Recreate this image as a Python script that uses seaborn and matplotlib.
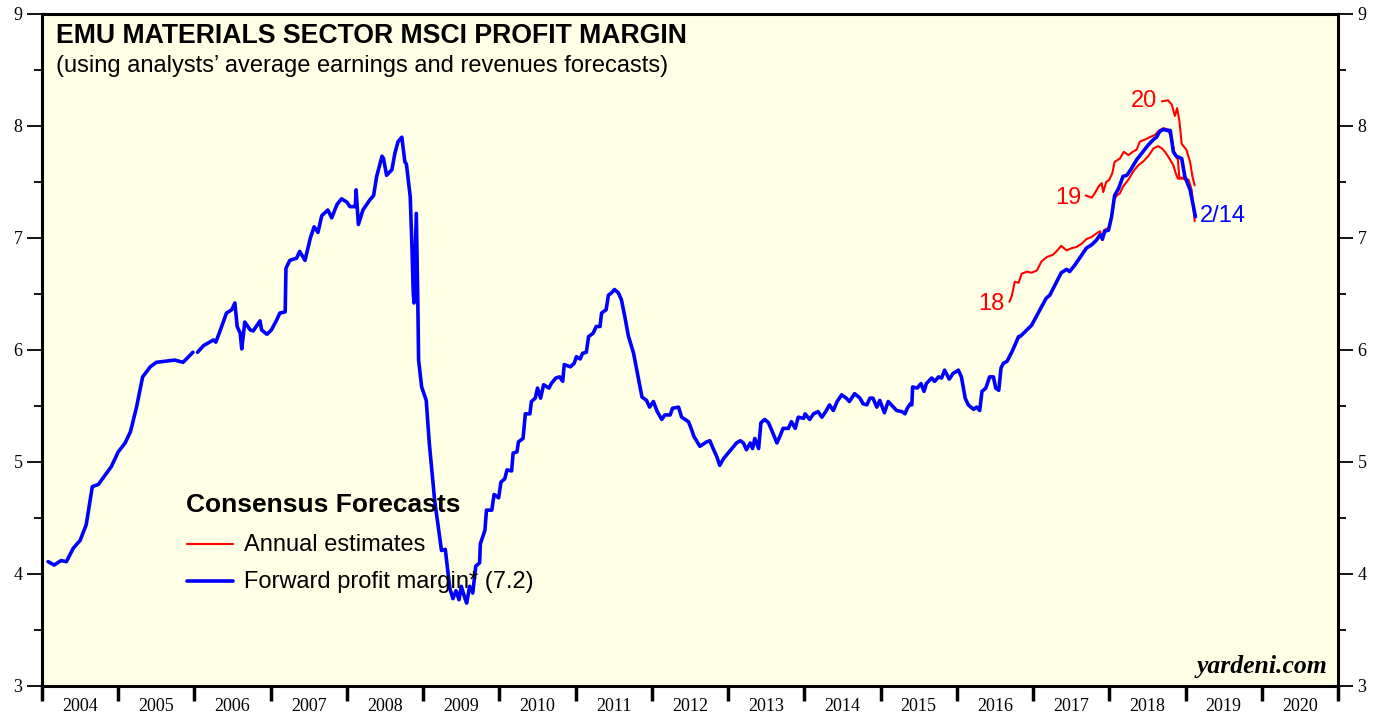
import matplotlib.pyplot as plt
import numpy as np
import pandas as pd
import seaborn as sns

# ── Data ───────────────────────────────────────────────────────────────────
# forward profit margin, two pieces (small gap at the start of 2006)
fwd_year_a = [2004.08, 2004.16, 2004.25, 2004.32, 2004.41, 2004.50, 2004.58, 2004.66,
              2004.74, 2004.91, 2005.00, 2005.09, 2005.16, 2005.24, 2005.32, 2005.42,
              2005.50, 2005.74, 2005.85, 2005.98]
fwd_margin_a = [4.11, 4.08, 4.12, 4.11, 4.23, 4.30, 4.44, 4.78,
                4.80, 4.96, 5.09, 5.17, 5.27, 5.49, 5.76, 5.85,
                5.89, 5.91, 5.89, 5.98]

fwd_year_b = [
    2006.04, 2006.12, 2006.25, 2006.28, 2006.33, 2006.42, 2006.49, 2006.53, 2006.56, 2006.60,
    2006.62, 2006.66, 2006.73, 2006.77, 2006.86, 2006.88, 2006.95, 2007.01, 2007.08, 2007.12,
    2007.19, 2007.20, 2007.25, 2007.34, 2007.38, 2007.45, 2007.52, 2007.57, 2007.62, 2007.67,
    2007.75, 2007.80, 2007.87, 2007.93, 2008.00, 2008.04, 2008.11, 2008.12, 2008.15, 2008.21,
    2008.30, 2008.35, 2008.39, 2008.46, 2008.48, 2008.52, 2008.59, 2008.63, 2008.67, 2008.72,
    2008.76, 2008.78, 2008.83, 2008.85, 2008.87, 2008.88, 2008.91, 2008.93, 2008.94, 2008.98,
    2009.04, 2009.08, 2009.15, 2009.24, 2009.29, 2009.35, 2009.39, 2009.43, 2009.47, 2009.50,
    2009.54, 2009.57, 2009.61, 2009.65, 2009.69, 2009.74, 2009.75, 2009.81, 2009.83, 2009.90,
    2009.93, 2009.99, 2010.02, 2010.07, 2010.10, 2010.16, 2010.18, 2010.23, 2010.25, 2010.31,
    2010.34, 2010.40, 2010.42, 2010.47, 2010.50, 2010.54, 2010.58, 2010.65, 2010.68, 2010.74,
    2010.79, 2010.83, 2010.85, 2010.93, 2010.98, 2011.01, 2011.06, 2011.09, 2011.14, 2011.17,
    2011.23, 2011.27, 2011.32, 2011.34, 2011.40, 2011.43, 2011.47, 2011.51, 2011.56, 2011.60,
    2011.65, 2011.69, 2011.76, 2011.82, 2011.87, 2011.93, 2011.97, 2012.02, 2012.07, 2012.13,
    2012.17, 2012.24, 2012.27, 2012.35, 2012.39, 2012.48, 2012.52, 2012.55, 2012.63, 2012.72,
    2012.76, 2012.81, 2012.85, 2012.89, 2012.94, 2013.00, 2013.05, 2013.11, 2013.16, 2013.20,
    2013.24, 2013.29, 2013.32, 2013.35, 2013.40, 2013.43, 2013.48, 2013.53, 2013.58, 2013.64,
    2013.68, 2013.72, 2013.79, 2013.83, 2013.88, 2013.92, 2013.99, 2014.01, 2014.07, 2014.12,
    2014.18, 2014.23, 2014.28, 2014.33, 2014.38, 2014.43, 2014.49, 2014.55, 2014.59, 2014.66,
    2014.73, 2014.77, 2014.82, 2014.86, 2014.90, 2014.95, 2014.99, 2015.05, 2015.10, 2015.17,
    2015.21, 2015.28, 2015.32, 2015.35, 2015.39, 2015.41, 2015.42, 2015.48, 2015.53, 2015.57,
    2015.60, 2015.67, 2015.71, 2015.76, 2015.80, 2015.84, 2015.90, 2015.95, 2016.02, 2016.06,
    2016.11, 2016.15, 2016.22, 2016.26, 2016.30, 2016.33, 2016.38, 2016.43, 2016.48, 2016.51,
    2016.55, 2016.58, 2016.61, 2016.66, 2016.72, 2016.76, 2016.81, 2016.83, 2016.92, 2016.98,
    2017.09, 2017.17, 2017.22, 2017.31, 2017.37, 2017.44, 2017.48, 2017.55, 2017.61, 2017.70,
    2017.77, 2017.83, 2017.88, 2017.91, 2017.94, 2017.99, 2018.03, 2018.07, 2018.12, 2018.18,
    2018.23, 2018.29, 2018.36, 2018.44, 2018.51, 2018.58, 2018.62, 2018.66, 2018.71, 2018.76,
    2018.80, 2018.84, 2018.88, 2018.95, 2018.99, 2019.06, 2019.10, 2019.13]
fwd_margin_b = [
    5.98, 6.04, 6.09, 6.07, 6.16, 6.33, 6.36, 6.42, 6.21, 6.15,
    6.01, 6.25, 6.18, 6.17, 6.26, 6.18, 6.14, 6.18, 6.27, 6.33,
    6.34, 6.73, 6.80, 6.82, 6.88, 6.80, 7.00, 7.10, 7.05, 7.20,
    7.25, 7.18, 7.30, 7.35, 7.32, 7.28, 7.28, 7.43, 7.12, 7.25,
    7.34, 7.38, 7.55, 7.73, 7.71, 7.56, 7.61, 7.76, 7.86, 7.90,
    7.68, 7.66, 7.37, 6.98, 6.51, 6.42, 7.22, 6.42, 5.91, 5.67,
    5.55, 5.17, 4.66, 4.21, 4.22, 3.87, 3.78, 3.85, 3.77, 3.89,
    3.80, 3.74, 3.89, 3.83, 4.07, 4.10, 4.27, 4.39, 4.57, 4.57,
    4.71, 4.68, 4.82, 4.85, 4.93, 4.92, 5.08, 5.09, 5.18, 5.21,
    5.43, 5.43, 5.54, 5.57, 5.66, 5.57, 5.69, 5.66, 5.70, 5.75,
    5.76, 5.72, 5.87, 5.85, 5.88, 5.94, 5.92, 5.97, 5.98, 6.12,
    6.15, 6.21, 6.21, 6.33, 6.36, 6.49, 6.51, 6.54, 6.51, 6.45,
    6.28, 6.13, 5.97, 5.76, 5.58, 5.55, 5.49, 5.54, 5.45, 5.38,
    5.42, 5.42, 5.48, 5.49, 5.40, 5.36, 5.29, 5.23, 5.14, 5.18,
    5.19, 5.11, 5.05, 4.97, 5.03, 5.08, 5.12, 5.17, 5.19, 5.17,
    5.11, 5.17, 5.12, 5.21, 5.12, 5.35, 5.38, 5.35, 5.27, 5.17,
    5.23, 5.30, 5.30, 5.36, 5.30, 5.40, 5.39, 5.43, 5.38, 5.43,
    5.45, 5.40, 5.45, 5.51, 5.46, 5.54, 5.60, 5.57, 5.54, 5.61,
    5.57, 5.52, 5.51, 5.57, 5.57, 5.49, 5.55, 5.44, 5.54, 5.49,
    5.46, 5.45, 5.43, 5.48, 5.52, 5.51, 5.67, 5.66, 5.70, 5.63,
    5.70, 5.75, 5.72, 5.76, 5.75, 5.82, 5.74, 5.79, 5.82, 5.76,
    5.57, 5.51, 5.47, 5.49, 5.46, 5.63, 5.66, 5.76, 5.76, 5.66,
    5.64, 5.84, 5.88, 5.90, 5.98, 6.04, 6.12, 6.12, 6.18, 6.22,
    6.36, 6.46, 6.49, 6.61, 6.69, 6.72, 6.70, 6.76, 6.82, 6.91,
    6.94, 6.98, 7.03, 6.99, 7.06, 7.07, 7.19, 7.38, 7.44, 7.55,
    7.56, 7.62, 7.70, 7.77, 7.83, 7.88, 7.90, 7.95, 7.97, 7.96,
    7.96, 7.77, 7.73, 7.71, 7.55, 7.43, 7.29, 7.19]

# annual consensus estimates
est18_year = [2016.69, 2016.72, 2016.76, 2016.81, 2016.85, 2016.92, 2016.98, 2017.05, 2017.11,
              2017.18, 2017.26, 2017.32, 2017.37, 2017.44, 2017.51, 2017.57, 2017.64, 2017.70,
              2017.77, 2017.83, 2017.88, 2017.91, 2017.93, 2017.99, 2018.03, 2018.06, 2018.10,
              2018.14, 2018.18, 2018.25, 2018.31, 2018.38, 2018.44, 2018.51, 2018.58, 2018.64,
              2018.69, 2018.73, 2018.77, 2018.84, 2018.87, 2018.90, 2018.95, 2019.01]
est18_margin = [6.43, 6.48, 6.61, 6.60, 6.68, 6.70, 6.69, 6.71, 6.79,
                6.83, 6.85, 6.89, 6.93, 6.89, 6.91, 6.92, 6.95, 6.99,
                7.01, 7.04, 7.06, 6.98, 7.07, 7.09, 7.19, 7.34, 7.38,
                7.40, 7.46, 7.52, 7.59, 7.65, 7.68, 7.73, 7.80, 7.82,
                7.80, 7.77, 7.73, 7.65, 7.58, 7.53, 7.54, 7.52]

est19_year = [2017.69, 2017.77, 2017.81, 2017.86, 2017.90, 2017.92, 2017.96, 2018.00, 2018.04,
              2018.07, 2018.14, 2018.19, 2018.25, 2018.31, 2018.36, 2018.40, 2018.47, 2018.53,
              2018.60, 2018.65, 2018.71, 2018.77, 2018.82, 2018.86, 2018.90, 2018.92, 2018.97,
              2019.04, 2019.08, 2019.12]
est19_margin = [7.38, 7.36, 7.40, 7.46, 7.49, 7.41, 7.50, 7.52, 7.58,
                7.68, 7.71, 7.77, 7.74, 7.77, 7.79, 7.86, 7.88, 7.90,
                7.92, 7.96, 7.98, 7.97, 7.88, 7.74, 7.70, 7.53, 7.53,
                7.52, 7.43, 7.15]

est20_year = [2018.69, 2018.77, 2018.82, 2018.86, 2018.89, 2018.92, 2018.95, 2019.01, 2019.06,
              2019.09, 2019.12]
est20_margin = [8.22, 8.23, 8.19, 8.09, 8.16, 8.04, 7.84, 7.79, 7.68, 7.55, 7.47]

years = list(range(2004, 2021))
y_ticks = [3, 4, 5, 6, 7, 8, 9]

# ── Style ──────────────────────────────────────────────────────────────────
sns.set_style("ticks")
plt.rcParams["font.family"] = ["Liberation Sans", "DejaVu Sans"]
plt.rcParams["text.color"] = "black"
BLUE = "#0000FF"
RED = "#FF0000"
SERIF = ["Liberation Serif", "DejaVu Serif"]

fig = plt.figure(figsize=(13.84, 7.15), dpi=100)
ax = fig.add_axes([42 / 1384, 29 / 715, 1296 / 1384, 672 / 715])
ax.set_facecolor("#FFFFE6")

for yr, mg in [(est18_year, est18_margin), (est19_year, est19_margin), (est20_year, est20_margin)]:
    sns.lineplot(x=yr, y=mg, ax=ax, color=RED, linewidth=1.5, estimator=None, sort=False)

for yr, mg in [(fwd_year_a, fwd_margin_a), (fwd_year_b, fwd_margin_b)]:
    sns.lineplot(x=yr, y=mg, ax=ax, color=BLUE, linewidth=2.6, estimator=None, sort=False)

ax.set_xlim(2004, 2021)
ax.set_ylim(3, 9)

# y axis: labels on both sides, half-unit minor ticks
ax.set_yticks(y_ticks)
ax.set_yticks(np.arange(3.5, 9, 1.0), minor=True)
ax.tick_params(axis="y", which="both", left=True, right=True, labelleft=True, labelright=True,
               direction="out", width=1.3, colors="black", labelsize=13, pad=3)
ax.tick_params(axis="y", which="major", length=11)
ax.tick_params(axis="y", which="minor", length=6)

# x axis: boundary ticks at year starts, labels centred on each year
ax.set_xticks(years + [2021])
ax.set_xticklabels([""] * (len(years) + 1))
ax.set_xticks([y + 0.5 for y in years], minor=True)
ax.set_xticklabels([str(y) for y in years], minor=True)
ax.tick_params(axis="x", which="major", direction="out", length=11, width=2.5, colors="black")
ax.tick_params(axis="x", which="minor", length=0, labelsize=13, pad=8.5, labelcolor="black")

for lab in ax.xaxis.get_ticklabels(which="both") + ax.yaxis.get_ticklabels(which="both"):
    lab.set_family(SERIF)

for sp in ax.spines.values():
    sp.set_linewidth(2.2)
    sp.set_color("black")

ax.set_xlabel("")
ax.set_ylabel("")

# titles
ax.text(0.011, 0.987, "EMU MATERIALS SECTOR MSCI PROFIT MARGIN", transform=ax.transAxes,
        fontsize=19.2, fontweight="bold", va="top", ha="left")
ax.text(0.011, 0.939, "(using analysts\u2019 average earnings and revenues forecasts)",
        transform=ax.transAxes, fontsize=17, va="top", ha="left")

# legend
ax.text(2005.89, 4.62, "Consensus Forecasts", fontsize=19, fontweight="bold", va="center")
ax.plot([2005.9, 2006.5], [4.27, 4.27], color=RED, linewidth=1.5)
ax.text(2006.65, 4.26, "Annual estimates", fontsize=17, va="center")
ax.plot([2005.9, 2006.5], [3.94, 3.94], color=BLUE, linewidth=2.6)
ax.text(2006.65, 3.93, "Forward profit margin* (7.2)", fontsize=17, va="center")

# series labels
ax.text(2016.63, 6.41, "18", color=RED, fontsize=17, ha="right", va="center")
ax.text(2017.63, 7.36, "19", color=RED, fontsize=17, ha="right", va="center")
ax.text(2018.63, 8.22, "20", color=RED, fontsize=17, ha="right", va="center")
ax.text(2019.19, 7.2, "2/14", color=BLUE, fontsize=17, ha="left", va="center")

ax.text(0.992, 0.012, "yardeni.com", transform=ax.transAxes, fontsize=18.5,
        fontweight="bold", fontstyle="italic", family=SERIF, ha="right", va="bottom")

fig.savefig("out.png", dpi=100, facecolor="white")
